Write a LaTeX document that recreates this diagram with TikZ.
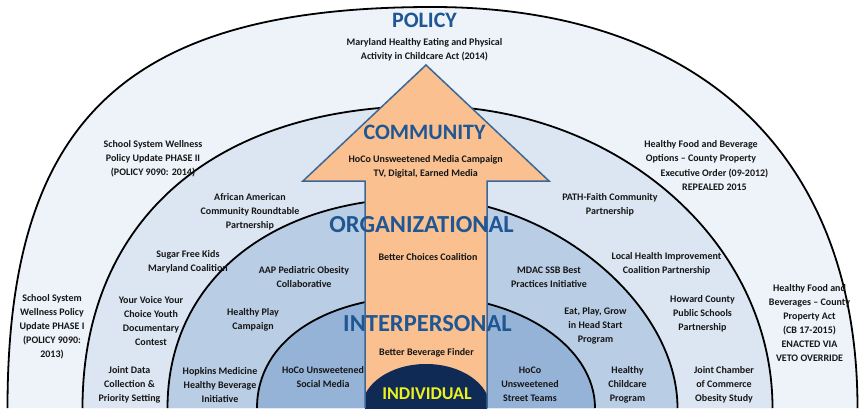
\documentclass[tikz,border=0pt]{standalone}
\usepackage{fontspec}
\setmainfont{Carlito}
\begin{document}
\definecolor{policyfill}{RGB}{238,243,249}
\definecolor{commfill}{RGB}{220,230,242}
\definecolor{orgfill}{RGB}{185,205,229}
\definecolor{interfill}{RGB}{149,179,215}
\definecolor{arrowfill}{RGB}{250,192,144}
\definecolor{arrowline}{RGB}{58,103,149}
\definecolor{navy}{RGB}{15,43,85}
\definecolor{headblue}{RGB}{31,86,148}
\definecolor{textgray}{RGB}{22,22,22}
\definecolor{indyellow}{RGB}{236,240,30}
\begin{tikzpicture}[x=1pt,y=-1pt,
  ring/.style={draw=black,line width=1.8pt},
  lbl/.style={font=\bfseries\fontsize{10}{14}\selectfont,align=center,inner sep=0pt,text=textgray},
  heading/.style={font=\bfseries\fontsize{22}{24}\selectfont,inner sep=0pt,text=headblue},
  bigheading/.style={font=\bfseries\fontsize{24.5}{26}\selectfont,inner sep=0pt,text=headblue}]
\useasboundingbox[fill=white] (0,0) rectangle (865,415);

% nested levels of the model, outermost first
\fill[policyfill] (7.5,408) .. controls (7.5,119.3) and (126.5,7) .. (432.5,7)
  .. controls (700.3,7) and (857.5,155.4) .. (857.5,408) -- cycle;
\draw[ring] (7.5,408) .. controls (7.5,119.3) and (126.5,7) .. (432.5,7)
  .. controls (700.3,7) and (857.5,155.4) .. (857.5,408);

\fill[commfill] (82.5,408) .. controls (82.5,220.8) and (213.6,106) .. (427.5,106)
  .. controls (617.3,106) and (772.5,241.9) .. (772.5,408) -- cycle;
\draw[ring] (82.5,408) .. controls (82.5,220.8) and (213.6,106) .. (427.5,106)
  .. controls (617.3,106) and (772.5,241.9) .. (772.5,408);

\fill[orgfill] (167.5,408) .. controls (167.5,282) and (269.5,198) .. (422.5,198)
  .. controls (550,198) and (677.5,303) .. (677.5,408) -- cycle;
\draw[ring] (167.5,408) .. controls (167.5,282) and (269.5,198) .. (422.5,198)
  .. controls (550,198) and (677.5,303) .. (677.5,408);

\fill[interfill] (257,408) .. controls (257,340.8) and (324.6,296) .. (426,296)
  .. controls (519,296) and (595,346.4) .. (595,408) -- cycle;
\draw[ring] (257,408) .. controls (257,340.8) and (324.6,296) .. (426,296)
  .. controls (519,296) and (595,346.4) .. (595,408);

% upward arrow through all levels
\fill[arrowfill] (365,408) -- (365,181) -- (303,181) -- (426,65) -- (549,181)
  -- (487,181) -- (487,408) -- cycle;
\begin{scope}
  \clip (365,181) rectangle (487,408);
  \fill[navy] (426,408) ellipse[x radius=64,y radius=44];
\end{scope}
\draw[arrowline,line width=1.5pt,line join=miter] (365,408) -- (365,181) -- (303,181)
  -- (426,65) -- (549,181) -- (487,181) -- (487,408);

% level names
\node[heading] (policy) at (424.5,20) {POLICY};
\node[heading] (community) at (424.5,132) {COMMUNITY};
\node[bigheading] (organizational) at (421.5,225) {ORGANIZATIONAL};
\node[bigheading] (interpersonal) at (427.5,323.3) {INTERPERSONAL};
\node[font=\bfseries\fontsize{18}{20}\selectfont,inner sep=0pt,text=indyellow] (individual) at (427,394) {INDIVIDUAL};

% policy level
\node[lbl] (mdact) at (424.5,49.5) {Maryland Healthy Eating and Physical\\Activity in Childcare Act (2014)};
\node[lbl] (sswp2) at (153,158.3) {School System Wellness\\Policy Update PHASE II\\(POLICY 9090: 2014)};
\node[lbl] (sswp1) at (52,326.4) {School System\\Wellness Policy\\Update PHASE I\\(POLICY 9090:\\2013)};
\node[lbl] (hfbo) at (701,151.5) {Healthy Food and Beverage\\Options -- County Property};
\node[lbl] (hfbeo) at (714.5,179.5) {Executive Order (09-2012)\\REPEALED 2015};
\node[lbl] (hfbact) at (809.5,323.2) {Healthy Food and\\Beverages -- County\\Property Act\\(CB 17-2015)\\ENACTED VIA\\VETO OVERRIDE};

% community level
\node[lbl] (media) at (425.7,167.3) {HoCo Unsweetened Media Campaign\\TV, Digital, Earned Media};
\node[lbl] (aacr) at (250,211.5) {African American\\Community Roundtable\\Partnership};
\node[lbl] (path) at (610,204.5) {PATH-Faith Community\\Partnership};
\node[lbl] (sfk) at (188,262.2) {Sugar Free Kids\\Maryland Coalition};
\node[lbl] (lhic) at (666.5,263.7) {Local Health Improvement\\Coalition Partnership};
\node[lbl] (yvyc) at (151,320.8) {Your Voice Your\\Choice Youth\\Documentary\\Contest};
\node[lbl] (hcps) at (702.5,313.3) {Howard County\\Public Schools\\Partnership};
\node[lbl] (jdc) at (129.5,384.7) {Joint Data\\Collection \&\\Priority Setting};
\node[lbl] (jcc) at (724,384.7) {Joint Chamber\\of Commerce\\Obesity Study};

% organizational level
\node[lbl] (bcc) at (428,257.3) {Better Choices Coalition};
\node[lbl] (aap) at (304,277.5) {AAP Pediatric Obesity\\Collaborative};
\node[lbl] (mdac) at (549,277.5) {MDAC SSB Best\\Practices Initiative};
\node[lbl] (hpc) at (253,320.3) {Healthy Play\\Campaign};
\node[lbl] (epg) at (595.5,325.7) {Eat, Play, Grow\\in Head Start\\Program};
\node[lbl] (hopkins) at (220,384.7) {Hopkins Medicine\\Healthy Beverage\\Initiative};
\node[lbl] (hcp) at (627.5,384.7) {Healthy\\Childcare\\Program};

% interpersonal level
\node[lbl] (bbf) at (426.5,352.7) {Better Beverage Finder};
\node[lbl] (social) at (323,377.3) {HoCo Unsweetened\\Social Media};
\node[lbl] (street) at (530,384.7) {HoCo\\Unsweetened\\Street Teams};
\end{tikzpicture}
\end{document}
